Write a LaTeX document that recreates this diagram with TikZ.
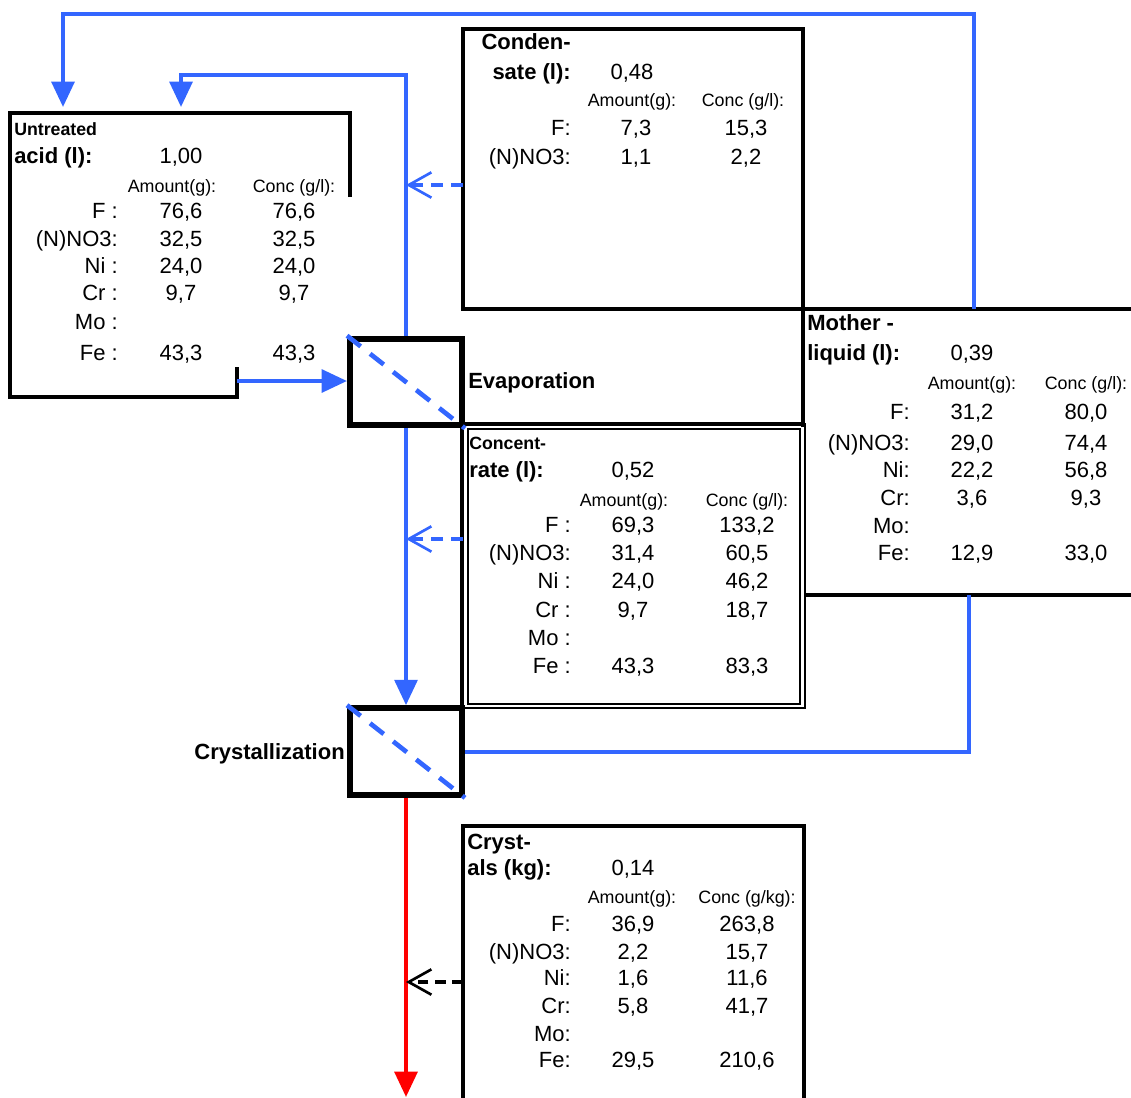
\documentclass[tikz,border=0pt]{standalone}
\usepackage{fontspec}
\setmainfont{Liberation Sans}
\usetikzlibrary{arrows.meta}
\definecolor{flowblue}{RGB}{51,102,255}

\begin{document}
\begin{tikzpicture}[x=0.75pt, y=-0.75pt,
  every node/.style={inner sep=0pt, font=\fontsize{16.5}{18}\selectfont, text height=11.8pt, text depth=0pt},
  lab/.style={anchor=east},
  hd/.style={font=\fontsize{13.4}{15}\selectfont, text height=9.6pt},
  ttl/.style={anchor=west, font=\fontsize{16.5}{18}\selectfont\bfseries},
  sttl/.style={anchor=west, font=\fontsize{13.3}{15}\selectfont\bfseries, text height=9.6pt},
  databox/.style={line width=3pt},
  thinbox/.style={line width=1.5pt},
  procbox/.style={draw, line width=4.5pt, minimum width=84pt, minimum height=65pt},
  flow/.style={flowblue, line width=3pt},
  tip/.style={-{Triangle[length=19pt,width=17pt]}},
  back/.style={dash pattern=on 9pt off 6pt, -{Straight Barb[length=17pt,width=19pt,line width=2pt]}},
  split/.style={flowblue, line width=3.5pt, dash pattern=on 13pt off 9pt}]
\useasboundingbox (0,0) rectangle (1131,1097);

% boxes
\draw[databox] (350,197) -- (350,113) -- (10,113) -- (10,397) -- (237,397) -- (237,367);
\draw[databox] (463,29) rectangle (803,309);
\draw[databox] (1140,309) -- (803,309) -- (803,427);
\draw[databox] (805,595) -- (1140,595);
\draw[databox] (462,708) -- (462,424) -- (803,424);
\draw[thinbox] (462,424) rectangle (804.5,708);
\draw[thinbox] (467.5,428.5) rectangle (800,704);
\draw[databox] (463,1110) -- (463,826) -- (804,826) -- (804,1110);

\node[procbox] (evap) at (406,382) {};
\node[procbox] (cryst) at (406,751.5) {};
\draw[split] (evap.north west) -- (evap.south east);
\draw[split] (cryst.north west) -- (cryst.south east);
\node[ttl] (evaplab) at (468,381) {Evaporation};
\node[ttl, anchor=east] (crystlab) at (345,752) {Crystallization};

% flows
\coordinate (acidout) at (237,381);
\coordinate (ret1) at (63,107);
\coordinate (bend1) at (63,14);
\coordinate (mltop) at (974,309);
\coordinate (ret2) at (181,107);
\coordinate (bend2) at (181,75);
\coordinate (condout) at (463,185);
\coordinate (concout) at (463,539);
\coordinate (mlbot) at (969,595);
\coordinate (crysout) at (463,982);
\coordinate (prod) at (406,1097);
\draw[flow,tip] (acidout) -- (acidout -| evap.west);
\draw[flow,tip] (mltop) |- (bend1) -- (ret1);
\draw[flow,tip] (evap.north) |- (bend2) -- (ret2);
\draw[flow,back] (condout) -- (condout -| evap.north);
\draw[flow,tip] (evap.south) -- (cryst.north);
\draw[flow,back] (concout) -- (concout -| evap.south);
\draw[flow] (mlbot) |- (cryst.east);
\draw[red, line width=3pt, tip] (cryst.south) -- (prod);
\draw[line width=3pt, back, dash pattern=on 8pt off 5pt] (crysout) -- (crysout -| cryst.south);

% untreated acid
\node[sttl] (ua-t1) at (14,129) {Untreated};
\node[ttl] (ua-t2) at (14,156) {acid (l):};
\node (ua-vol) at (181,156) {1,00};
\node[hd] (ua-h1) at (172,186) {Amount(g):};
\node[hd] (ua-h2) at (294,186) {Conc (g/l):};
\node[lab] (ua-l1) at (118,211) {F :};
\node[lab] (ua-l2) at (118,239) {(N)NO3:};
\node[lab] (ua-l3) at (118,266) {Ni :};
\node[lab] (ua-l4) at (118,293) {Cr :};
\node[lab] (ua-l5) at (118,322) {Mo :};
\node[lab] (ua-l6) at (118,353) {Fe :};
\node (ua-a1) at (181,211) {76,6};
\node (ua-a2) at (181,239) {32,5};
\node (ua-a3) at (181,266) {24,0};
\node (ua-a4) at (181,293) {9,7};
\node (ua-a6) at (181,353) {43,3};
\node (ua-c1) at (294,211) {76,6};
\node (ua-c2) at (294,239) {32,5};
\node (ua-c3) at (294,266) {24,0};
\node (ua-c4) at (294,293) {9,7};
\node (ua-c6) at (294,353) {43,3};

% condensate
\node[ttl, anchor=east] (co-t1) at (571,42) {Conden-};
\node[ttl, anchor=east] (co-t2) at (571,72) {sate (l):};
\node (co-vol) at (632,72) {0,48};
\node[hd] (co-h1) at (632,100) {Amount(g):};
\node[hd] (co-h2) at (743,100) {Conc (g/l):};
\node[lab] (co-l1) at (571,128) {F:};
\node[lab] (co-l2) at (571,157) {(N)NO3:};
\node (co-a1) at (636,128) {7,3};
\node (co-a2) at (636,157) {1,1};
\node (co-c1) at (746,128) {15,3};
\node (co-c2) at (746,157) {2,2};

% concentrate
\node[sttl] (cc-t1) at (469,443) {Concent-};
\node[ttl] (cc-t2) at (469,470) {rate (l):};
\node (cc-vol) at (633,470) {0,52};
\node[hd] (cc-h1) at (624,500) {Amount(g):};
\node[hd] (cc-h2) at (747,500) {Conc (g/l):};
\node[lab] (cc-l1) at (571,525) {F :};
\node[lab] (cc-l2) at (571,553) {(N)NO3:};
\node[lab] (cc-l3) at (571,581) {Ni :};
\node[lab] (cc-l4) at (571,610) {Cr :};
\node[lab] (cc-l5) at (571,638) {Mo :};
\node[lab] (cc-l6) at (571,666) {Fe :};
\node (cc-a1) at (633,525) {69,3};
\node (cc-a2) at (633,553) {31,4};
\node (cc-a3) at (633,581) {24,0};
\node (cc-a4) at (633,610) {9,7};
\node (cc-a6) at (633,666) {43,3};
\node (cc-c1) at (747,525) {133,2};
\node (cc-c2) at (747,553) {60,5};
\node (cc-c3) at (747,581) {46,2};
\node (cc-c4) at (747,610) {18,7};
\node (cc-c6) at (747,666) {83,3};

% mother liquid
\node[ttl] (ml-t1) at (807,323) {Mother -};
\node[ttl] (ml-t2) at (807,353) {liquid (l):};
\node (ml-vol) at (972,353) {0,39};
\node[hd] (ml-h1) at (972,383) {Amount(g):};
\node[hd] (ml-h2) at (1086,383) {Conc (g/l):};
\node[lab] (ml-l1) at (910,412) {F:};
\node[lab] (ml-l2) at (910,443) {(N)NO3:};
\node[lab] (ml-l3) at (910,470) {Ni:};
\node[lab] (ml-l4) at (910,498) {Cr:};
\node[lab] (ml-l5) at (910,526) {Mo:};
\node[lab] (ml-l6) at (910,553) {Fe:};
\node (ml-a1) at (972,412) {31,2};
\node (ml-a2) at (972,443) {29,0};
\node (ml-a3) at (972,470) {22,2};
\node (ml-a4) at (972,498) {3,6};
\node (ml-a6) at (972,553) {12,9};
\node (ml-c1) at (1086,412) {80,0};
\node (ml-c2) at (1086,443) {74,4};
\node (ml-c3) at (1086,470) {56,8};
\node (ml-c4) at (1086,498) {9,3};
\node (ml-c6) at (1086,553) {33,0};

% crystals
\node[ttl] (cr-t1) at (467,842) {Cryst-};
\node[ttl] (cr-t2) at (467,868) {als (kg):};
\node (cr-vol) at (633,868) {0,14};
\node[hd] (cr-h1) at (632,897) {Amount(g):};
\node[hd] (cr-h2) at (747,897) {Conc (g/kg):};
\node[lab] (cr-l1) at (571,924) {F:};
\node[lab] (cr-l2) at (571,952) {(N)NO3:};
\node[lab] (cr-l3) at (571,978) {Ni:};
\node[lab] (cr-l4) at (571,1006) {Cr:};
\node[lab] (cr-l5) at (571,1034) {Mo:};
\node[lab] (cr-l6) at (571,1060) {Fe:};
\node (cr-a1) at (633,924) {36,9};
\node (cr-a2) at (633,952) {2,2};
\node (cr-a3) at (633,978) {1,6};
\node (cr-a4) at (633,1006) {5,8};
\node (cr-a6) at (633,1060) {29,5};
\node (cr-c1) at (747,924) {263,8};
\node (cr-c2) at (747,952) {15,7};
\node (cr-c3) at (747,978) {11,6};
\node (cr-c4) at (747,1006) {41,7};
\node (cr-c6) at (747,1060) {210,6};
\end{tikzpicture}
\end{document}
